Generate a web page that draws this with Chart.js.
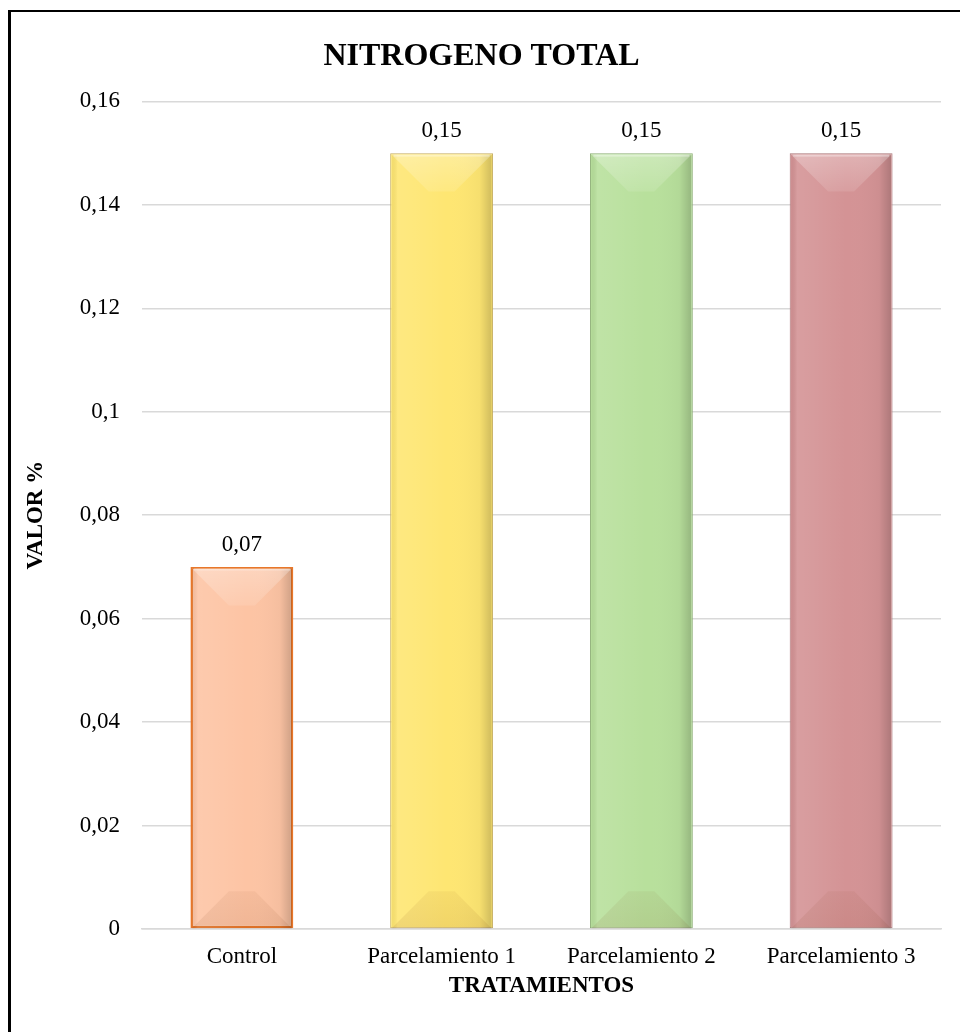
<!DOCTYPE html>
<html lang="es">
<head>
<meta charset="utf-8">
<title>Nitrógeno total</title>
<script src="https://cdn.jsdelivr.net/npm/chart.js@4.4.1/dist/chart.umd.min.js"></script>
<style>
  html, body { margin: 0; padding: 0; background: #fff; overflow: hidden; }
  #frame {
    position: absolute; left: 8px; top: 10px;
    width: 1000px; height: 1100px;
    border-left: 3px solid #000; border-top: 2px solid #000;
  }
  #wrap { position: absolute; left: 0; top: 0; width: 960px; height: 1032px; }
</style>
</head>
<body>
<div id="frame"></div>
<div id="wrap"><canvas id="chart" width="960" height="1032"></canvas></div>
<script>
// Treatments and measured total nitrogen (%)
const categories = ['Control', 'Parcelamiento 1', 'Parcelamiento 2', 'Parcelamiento 3'];
const nitrogenValues = [0.07, 0.15, 0.15, 0.15];
const yTicks = [0, 0.02, 0.04, 0.06, 0.08, 0.1, 0.12, 0.14, 0.16];

const fillColors = ['#FDC4A4', '#FEE672', '#B8E09C', '#D49395'];
const edgeColors = ['#E8772A', '#C4AD62', '#8DAE76', '#A87678'];

const SERIF = "'Liberation Serif', 'Times New Roman', serif";
const fmt = v => Number(v.toFixed(2)).toString().replace('.', ',');

// Bevelled shading laid over each bar the library has drawn
const bevelPlugin = {
  id: 'bevel',
  afterDatasetDraw(chart, args) {
    const ctx = chart.ctx;
    args.meta.data.forEach(bar => {
      const p = bar.getProps(['x', 'y', 'base', 'width'], true);
      const l = p.x - p.width / 2 + 1.5, r = p.x + p.width / 2 - 1.5;
      const t = p.y + 1.5, b = p.base;
      const w = r - l;
      const d = Math.min(38, w * 0.37, (b - t) / 2);
      ctx.save();
      // side-to-side shading
      const hg = ctx.createLinearGradient(l, 0, r, 0);
      hg.addColorStop(0, 'rgba(0,0,0,0.04)');
      hg.addColorStop(0.06, 'rgba(255,255,255,0.10)');
      hg.addColorStop(0.2, 'rgba(255,255,255,0.08)');
      hg.addColorStop(0.55, 'rgba(255,255,255,0.0)');
      hg.addColorStop(0.88, 'rgba(0,0,0,0.03)');
      hg.addColorStop(1, 'rgba(0,0,0,0.18)');
      ctx.fillStyle = hg;
      ctx.fillRect(l, t, w, b - t);
      // thin highlight along the top edge
      ctx.fillStyle = 'rgba(255,255,255,0.35)';
      ctx.fillRect(l + 2, t, w - 4, 2);
      // top facet
      const tg = ctx.createLinearGradient(0, t, 0, t + d);
      tg.addColorStop(0, 'rgba(255,255,255,0.28)');
      tg.addColorStop(1, 'rgba(255,255,255,0.10)');
      ctx.fillStyle = tg;
      ctx.beginPath();
      ctx.moveTo(l, t); ctx.lineTo(r, t);
      ctx.lineTo(r - d, t + d); ctx.lineTo(l + d, t + d);
      ctx.closePath(); ctx.fill();
      // bottom facet
      const bg = ctx.createLinearGradient(0, b - d, 0, b);
      bg.addColorStop(0, 'rgba(110,40,0,0.05)');
      bg.addColorStop(1, 'rgba(110,40,0,0.09)');
      ctx.fillStyle = bg;
      ctx.beginPath();
      ctx.moveTo(l, b); ctx.lineTo(r, b);
      ctx.lineTo(r - d, b - d); ctx.lineTo(l + d, b - d);
      ctx.closePath(); ctx.fill();
      ctx.restore();
    });
  },
  afterDatasetsDraw(chart) {
    // value labels above the bars
    const ctx = chart.ctx;
    const meta = chart.getDatasetMeta(0);
    const vals = chart.data.datasets[0].data;
    ctx.save();
    ctx.font = '23px ' + SERIF;
    ctx.fillStyle = '#000';
    ctx.textAlign = 'center';
    ctx.textBaseline = 'middle';
    meta.data.forEach((bar, i) => {
      ctx.fillText(fmt(vals[i]), bar.x, bar.y - 22);
    });
    ctx.restore();
  }
};

new Chart(document.getElementById('chart'), {
  type: 'bar',
  data: {
    labels: categories,
    datasets: [{
      data: nitrogenValues,
      backgroundColor: fillColors,
      borderColor: edgeColors,
      borderWidth: [2.5, 1, 1, 1],
      borderSkipped: false,
      barPercentage: 0.515,
      categoryPercentage: 1
    }]
  },
  plugins: [bevelPlugin],
  options: {
    responsive: false,
    animation: false,
    events: [],
    layout: { padding: { left: 22, right: 19, top: 22, bottom: 32 } },
    plugins: {
      legend: { display: false },
      tooltip: { enabled: false },
      title: {
        display: true,
        text: 'NITROGENO TOTAL',
        color: '#000',
        font: { family: SERIF, size: 32, weight: 'bold' },
        padding: { top: 16, bottom: 25 }
      }
    },
    scales: {
      x: {
        afterFit: s => { s.height = 71; },
        grid: { display: false, drawTicks: false },
        border: { display: true, color: '#D9D9D9', width: 1.5 },
        ticks: { color: '#000', font: { family: SERIF, size: 23 }, padding: 14, maxRotation: 0 },
        title: {
          display: true, text: 'TRATAMIENTOS', color: '#000',
          font: { family: SERIF, size: 23, weight: 'bold' },
          padding: { top: 0, bottom: 0 }
        }
      },
      y: {
        min: 0, max: 0.16,
        afterBuildTicks: s => { s.ticks = yTicks.map(v => ({ value: v })); },
        afterFit: s => { s.width = 120; },
        grid: { color: '#D9D9D9', lineWidth: 1.5, drawTicks: false },
        border: { display: false },
        ticks: {
          color: '#000', font: { family: SERIF, size: 23 }, padding: 22,
          callback: v => fmt(v)
        },
        title: {
          display: true, text: 'VALOR %', color: '#000',
          font: { family: SERIF, size: 23, weight: 'bold' },
          padding: { top: 0, bottom: 0 }
        }
      }
    }
  }
});
</script>
</body>
</html>
